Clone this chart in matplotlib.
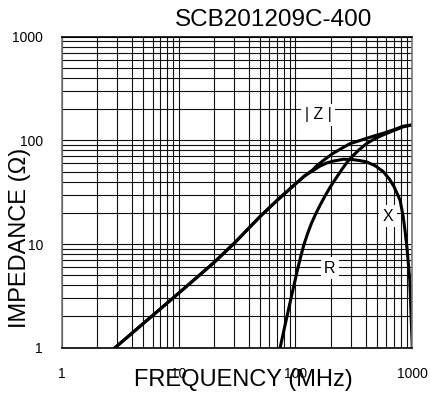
import matplotlib
matplotlib.use("Agg")
import matplotlib.pyplot as plt
from matplotlib.ticker import FixedLocator, FixedFormatter, NullFormatter

plt.rcParams['font.family'] = ['Liberation Sans', 'DejaVu Sans']

# values (MHz, ohm)
z_freq = [2.86, 10, 20, 30, 50, 70, 100, 120, 141, 152, 180, 210, 250, 293, 350, 406, 480, 564, 700, 836, 1000]
z_vals = [1.0, 3.35, 6.6, 10.2, 18.5, 26.5, 38, 45.5, 52, 57, 66, 75, 84, 93, 99, 104.5, 111, 117, 127, 137, 141]

x_freq = [2.86, 10, 20, 30, 50, 70, 100, 120, 141, 160, 185, 210, 256, 300, 350, 406, 480, 564, 640, 700, 785, 836, 870, 904, 952, 1000]
x_vals = [1.0, 3.35, 6.6, 10.2, 18.5, 26.5, 38, 45.5, 51, 56, 60.5, 63, 65.7, 65.5, 64, 62, 57, 50, 42, 35.5, 26.6, 18.4, 13, 8.8, 4.5, 1.0]

r_freq = [74, 80, 87, 94, 102, 110, 118, 127, 137, 150, 165, 182, 200, 225, 250, 275, 310, 350, 406, 480, 564, 700, 836, 1000]
r_vals = [1.0, 1.5, 2.3, 3.4, 5.1, 7.3, 9.8, 12.6, 15.8, 19.8, 24.5, 30, 36, 44, 52.5, 61, 71, 81, 93, 104, 113, 125, 135, 141]

ticks = [1, 10, 100, 1000]
tick_labels = ['1', '10', '100', '1000']

fig = plt.figure(figsize=(4.30, 4.01), dpi=100)
ax = fig.add_axes([0.1435, 0.1329, 0.8153, 0.7756])

ax.set_xscale('log')
ax.set_yscale('log')
ax.set_xlim(1, 1000)
ax.set_ylim(1, 1000)

ax.grid(True, which='both', color='#111111', linewidth=0.8)
ax.set_axisbelow(True)

for f, v in [(z_freq, z_vals), (x_freq, x_vals), (r_freq, r_vals)]:
    ax.plot(f, v, color='black', linewidth=2.2, solid_joinstyle='round')

ax.xaxis.set_major_locator(FixedLocator(ticks))
ax.xaxis.set_major_formatter(FixedFormatter(tick_labels))
ax.xaxis.set_minor_formatter(NullFormatter())
ax.yaxis.set_major_locator(FixedLocator(ticks))
ax.yaxis.set_major_formatter(FixedFormatter(tick_labels))
ax.yaxis.set_minor_formatter(NullFormatter())
ax.tick_params(which='both', length=0, labelsize=10)
ax.tick_params(axis='x', pad=14)
ax.tick_params(axis='y', pad=13.5)

for s in ax.spines.values():
    s.set_linewidth(1.2)
ax.spines['left'].set_color('#777777')
ax.spines['right'].set_color('#777777')

box = dict(facecolor='white', edgecolor='none', pad=2.5)
ax.text(156, 176, '| Z |', fontsize=11.5, ha='center', va='center', bbox=box)
ax.text(620, 18.6, 'X', fontsize=11.5, ha='center', va='center', bbox=box)
ax.text(197, 5.87, 'R', fontsize=11.5, ha='center', va='center', bbox=box)

fig.text(274 / 430, 1 - 20 / 401, 'SCB201209C-400', fontsize=17.5, ha='center', va='center')
fig.text(243 / 430, 1 - 380 / 401, 'FREQUENCY (MHz)', fontsize=17, ha='center', va='center')
fig.text(20 / 430, 1 - 238 / 401, 'IMPEDANCE (Ω)', fontsize=17, ha='center', va='center', rotation=90)

fig.savefig('out.png', dpi=100)
